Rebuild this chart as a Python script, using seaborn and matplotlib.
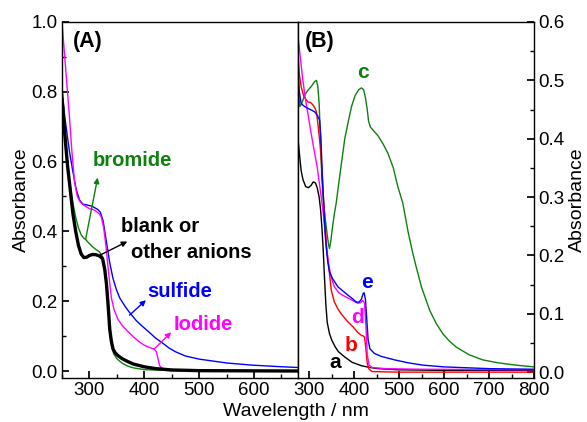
import pandas as pd
import matplotlib.pyplot as plt
import seaborn as sns
from matplotlib.ticker import MultipleLocator

# ---- panel (A): anion screening ----
wl_blank = [250, 255, 260, 265, 270, 275, 280, 285, 290, 295, 300, 306, 312, 318, 324, 328, 331, 334, 337,
            340, 343, 347, 352, 360, 370, 380, 400, 420, 450, 500, 680]
abs_blank = [0.78, 0.68, 0.59, 0.52, 0.45, 0.40, 0.36, 0.335, 0.325, 0.326, 0.331, 0.334, 0.333, 0.33, 0.322,
             0.29, 0.25, 0.19, 0.12, 0.085, 0.063, 0.052, 0.044, 0.035, 0.027, 0.02, 0.012, 0.007, 0.003, 0.001, 0.0]

wl_bromide = [250, 255, 260, 265, 270, 275, 280, 285, 290, 293, 298, 305, 312, 318, 324, 328, 331, 334, 337,
              340, 344, 350, 360, 370, 380, 400, 450, 680]
abs_bromide = [0.82, 0.70, 0.60, 0.53, 0.48, 0.44, 0.41, 0.39, 0.38, 0.377, 0.368, 0.357, 0.348, 0.342, 0.328,
               0.29, 0.25, 0.185, 0.115, 0.075, 0.05, 0.035, 0.022, 0.014, 0.009, 0.004, 0.001, 0.0]

wl_iodide = [250, 255, 260, 264, 268, 273, 278, 283, 288, 295, 300, 306, 312, 318, 322, 326, 330, 335, 340,
             345, 352, 360, 367, 380, 391, 400, 410, 418, 422, 425, 428, 433, 440, 460, 500, 680]
abs_iodide = [1.0, 0.9, 0.8, 0.72, 0.63, 0.54, 0.5, 0.485, 0.477, 0.47, 0.465, 0.463, 0.458, 0.45, 0.44, 0.41,
              0.36, 0.28, 0.21, 0.175, 0.148, 0.13, 0.118, 0.098, 0.083, 0.074, 0.067, 0.063, 0.055, 0.035,
              0.015, 0.007, 0.004, 0.002, 0.001, 0.0]

wl_sulfide = [250, 255, 260, 264, 270, 276, 282, 288, 295, 305, 315, 320, 325, 330, 337, 343, 349, 355, 365,
              373, 385, 395, 409, 420, 435, 445, 457, 475, 500, 523, 550, 595, 640, 680]
abs_sulfide = [0.81, 0.73, 0.67, 0.625, 0.57, 0.52, 0.49, 0.478, 0.476, 0.472, 0.463, 0.455, 0.43, 0.38, 0.31,
               0.265, 0.234, 0.21, 0.185, 0.168, 0.145, 0.13, 0.111, 0.095, 0.078, 0.066, 0.055, 0.043, 0.034,
               0.029, 0.023, 0.017, 0.013, 0.01]

# ---- panel (B): curves a-e ----
wl_a = [275, 278, 282, 286, 292, 298, 304, 309, 314, 318, 322, 325, 328, 331, 334, 337, 340, 345, 350, 358,
        365, 379, 395, 416, 435, 453, 500, 600, 800]
abs_a = [0.40, 0.375, 0.345, 0.33, 0.318, 0.316, 0.32, 0.326, 0.324, 0.315, 0.30, 0.28, 0.25, 0.21, 0.16,
         0.115, 0.085, 0.066, 0.055, 0.043, 0.035, 0.026, 0.017, 0.011, 0.008, 0.006, 0.004, 0.003, 0.003]

wl_b = [275, 278, 282, 288, 297, 303, 308, 313, 316, 320, 324, 327, 330, 334, 338, 342, 349, 356, 364, 371,
        385, 397, 408, 416, 420, 423, 426, 429, 433, 440, 500, 800]
abs_b = [0.546, 0.51, 0.489, 0.472, 0.463, 0.462, 0.458, 0.452, 0.446, 0.42, 0.39, 0.36, 0.32, 0.27, 0.22,
         0.19, 0.14, 0.12, 0.108, 0.1, 0.087, 0.078, 0.068, 0.063, 0.062, 0.06, 0.04, 0.015, 0.005, 0.001,
         0.0, 0.0]

wl_c = [275, 277, 279, 283, 290, 297, 305, 312, 316, 319, 322, 325, 328, 332, 336, 340, 343, 345, 348, 352,
        356, 360, 365, 372, 379, 387, 394, 402, 410, 416, 421, 425, 429, 432, 436, 445, 453, 465, 475, 487,
        497, 508, 520, 530, 538, 550, 568, 582, 597, 612, 627, 655, 686, 720, 760, 800]
abs_c = [0.50, 0.47, 0.455, 0.46, 0.475, 0.483, 0.49, 0.498, 0.50, 0.49, 0.46, 0.40, 0.33, 0.29, 0.26, 0.235,
         0.218, 0.212, 0.225, 0.25, 0.272, 0.29, 0.32, 0.36, 0.40, 0.43, 0.455, 0.474, 0.484, 0.487, 0.484,
         0.47, 0.45, 0.43, 0.42, 0.412, 0.405, 0.39, 0.375, 0.35, 0.318, 0.29, 0.24, 0.205, 0.18, 0.145,
         0.106, 0.084, 0.066, 0.053, 0.043, 0.03, 0.021, 0.016, 0.012, 0.009]

wl_d = [275, 280, 285, 291, 297, 304, 312, 318, 324, 330, 334, 338, 342, 348, 356, 366, 376, 386, 396, 408,
        414, 419, 423, 426, 429, 433, 440, 470, 550, 800]
abs_d = [0.575, 0.54, 0.505, 0.47, 0.443, 0.41, 0.375, 0.35, 0.315, 0.28, 0.25, 0.215, 0.19, 0.165, 0.146,
         0.136, 0.131, 0.127, 0.123, 0.118, 0.119, 0.123, 0.118, 0.08, 0.03, 0.012, 0.008, 0.006, 0.005, 0.004]

wl_e = [275, 278, 282, 290, 297, 305, 312, 318, 323, 326, 329, 333, 337, 341, 345, 352, 364, 375, 386, 396,
        405, 411, 416, 420, 422, 425, 428, 431, 435, 445, 460, 490, 520, 553, 600, 700, 800]
abs_e = [0.518, 0.48, 0.46, 0.455, 0.452, 0.449, 0.446, 0.44, 0.432, 0.40, 0.34, 0.27, 0.22, 0.19, 0.172,
         0.16, 0.146, 0.139, 0.132, 0.126, 0.12, 0.12, 0.125, 0.135, 0.136, 0.125, 0.09, 0.055, 0.04, 0.032,
         0.027, 0.021, 0.016, 0.012, 0.009, 0.006, 0.005]

GREEN = '#0c820c'
TICK_FS = 13.5
LABEL_FS = 14
NOTE_FS = 14.5

sns.set_theme(style='ticks')
plt.rcParams['font.family'] = ['Liberation Sans', 'DejaVu Sans']
plt.rcParams.update({'axes.linewidth': 1.0, 'text.color': 'black', 'axes.labelcolor': 'black',
                     'axes.edgecolor': 'black', 'xtick.color': 'black', 'ytick.color': 'black'})

fig = plt.figure(figsize=(5.87, 4.22), dpi=100)
axA = fig.add_axes([0.1056, 0.1043, 0.402, 0.8436])
axB = fig.add_axes([0.5077, 0.1043, 0.402, 0.8436])

# panel A
sns.lineplot(x=wl_sulfide, y=abs_sulfide, ax=axA, color='blue', lw=1.0)
sns.lineplot(x=wl_iodide, y=abs_iodide, ax=axA, color='magenta', lw=1.0)
sns.lineplot(x=wl_bromide, y=abs_bromide, ax=axA, color=GREEN, lw=1.0)
sns.lineplot(x=wl_blank, y=abs_blank, ax=axA, color='black', lw=2.4)

axA.set_xlim(250, 680)
axA.set_ylim(-0.02, 1.0)
axA.set_xticks([300, 400, 500, 600])
axA.xaxis.set_minor_locator(MultipleLocator(50))
axA.yaxis.set_major_locator(MultipleLocator(0.2))
axA.yaxis.set_minor_locator(MultipleLocator(0.1))
axA.yaxis.set_major_formatter(plt.FormatStrFormatter('%.1f'))
axA.tick_params(which='both', direction='in', top=False, right=False, labelsize=TICK_FS)
axA.tick_params(which='major', length=5, pad=3)
axA.tick_params(which='minor', length=3)
axA.set_xlabel('')
axA.set_ylabel('Absorbance', fontsize=LABEL_FS, labelpad=1)

axA.text(270, 0.943, '(A)', fontsize=15.5, fontweight='bold', va='center')
axA.text(378, 0.603, 'bromide', color=GREEN, fontsize=NOTE_FS, fontweight='bold', ha='center', va='center')
axA.text(358, 0.414, 'blank or', color='black', fontsize=NOTE_FS, fontweight='bold', va='center')
axA.text(376, 0.34, 'other anions', color='black', fontsize=NOTE_FS, fontweight='bold', va='center')
axA.text(405, 0.229, 'sulfide', color='blue', fontsize=NOTE_FS, fontweight='bold', va='center')
axA.text(454, 0.134, 'Iodide', color='magenta', fontsize=NOTE_FS, fontweight='bold', va='center')

arrow = dict(arrowstyle='-|>', lw=1.0, mutation_scale=8, shrinkA=0, shrinkB=0)
axA.annotate('', xy=(315, 0.554), xytext=(293, 0.377), arrowprops=dict(arrow, color=GREEN))
axA.annotate('', xy=(369, 0.371), xytext=(318, 0.331), arrowprops=dict(arrow, color='black'))
axA.annotate('', xy=(403, 0.203), xytext=(373, 0.16), arrowprops=dict(arrow, color='blue'))
axA.annotate('', xy=(449, 0.111), xytext=(418, 0.063), arrowprops=dict(arrow, color='magenta'))

# panel B
sns.lineplot(x=wl_c, y=abs_c, ax=axB, color=GREEN, lw=1.0)
sns.lineplot(x=wl_a, y=abs_a, ax=axB, color='black', lw=1.0)
sns.lineplot(x=wl_b, y=abs_b, ax=axB, color='red', lw=1.0)
sns.lineplot(x=wl_d, y=abs_d, ax=axB, color='magenta', lw=1.0)
sns.lineplot(x=wl_e, y=abs_e, ax=axB, color='blue', lw=1.0)

axB.set_xlim(275, 800)
axB.set_ylim(-0.01, 0.6)
axB.set_xticks([300, 400, 500, 600, 700, 800])
axB.xaxis.set_minor_locator(MultipleLocator(50))
axB.yaxis.set_major_locator(MultipleLocator(0.1))
axB.yaxis.set_minor_locator(MultipleLocator(0.05))
axB.yaxis.set_major_formatter(plt.FormatStrFormatter('%.1f'))
axB.yaxis.tick_right()
axB.yaxis.set_label_position('right')
axB.tick_params(which='both', direction='in', left=False, top=False, labelsize=TICK_FS)
axB.tick_params(which='major', length=5, pad=3)
axB.tick_params(which='minor', length=3)
axB.set_xlabel('')
axB.set_ylabel('Absorbance', fontsize=LABEL_FS, labelpad=3)

axB.text(290, 0.566, '(B)', fontsize=15.5, fontweight='bold', va='center')
axB.text(419, 0.514, 'c', color=GREEN, fontsize=15, fontweight='bold', ha='center', va='center')
axB.text(428, 0.154, 'e', color='blue', fontsize=15, fontweight='bold', ha='center', va='center')
axB.text(408, 0.094, 'd', color='magenta', fontsize=15, fontweight='bold', ha='center', va='center')
axB.text(394, 0.046, 'b', color='red', fontsize=15, fontweight='bold', ha='center', va='center')
axB.text(357, 0.017, 'a', color='black', fontsize=15, fontweight='bold', ha='center', va='center')

fig.text(0.505, 0.004, 'Wavelength / nm', fontsize=LABEL_FS, ha='center', va='bottom')

fig.savefig('out.png', dpi=100)
